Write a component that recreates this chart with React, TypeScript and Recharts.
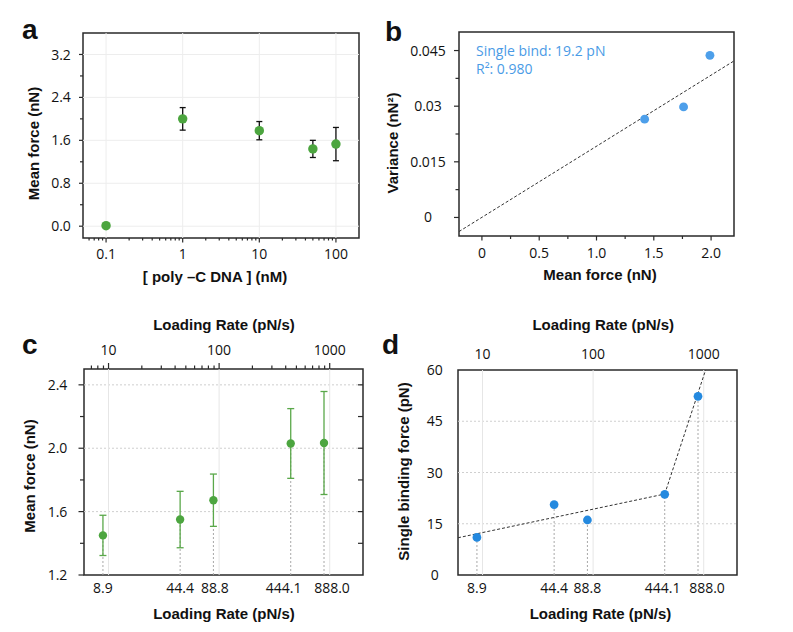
import React from "react";
import {
  ScatterChart,
  Scatter,
  XAxis,
  YAxis,
  ZAxis,
  ErrorBar,
  ReferenceLine,
  ReferenceArea,
  Label,
} from "recharts";

const W = 793;
const H = 632;

// ---- panel a: mean force vs poly-C DNA concentration
const concentration = [0.1, 1, 10, 50, 100];
const meanForceA = [0.01, 2.0, 1.78, 1.44, 1.53];
const errorA = [0.03, 0.21, 0.17, 0.16, 0.31];
const concTicks = [
  0.06, 0.07, 0.08, 0.09, 0.1, 0.2, 0.3, 0.4, 0.5, 0.6, 0.7, 0.8, 0.9, 1, 2, 3, 4, 5, 6, 7, 8, 9, 10,
  20, 30, 40, 50, 60, 70, 80, 90, 100,
];
const concMajors = [0.1, 1, 10, 100];
const forceTicksA = [0, 0.4, 0.8, 1.2, 1.6, 2.0, 2.4, 2.8, 3.2];
const forceMajorsA = [0, 0.8, 1.6, 2.4, 3.2];

// ---- panel b: variance vs mean force
const meanForceB = [1.42, 1.76, 1.99];
const varianceB = [0.0265, 0.0298, 0.0437];
const fitXB = [-0.2, 2.2];
const fitYB = [-0.0038, 0.0422];
const forceTicksB = [0, 0.25, 0.5, 0.75, 1.0, 1.25, 1.5, 1.75, 2.0];
const forceMajorsB = [0, 0.5, 1.0, 1.5, 2.0];
const varTicks = [0, 0.0075, 0.015, 0.0225, 0.03, 0.0375, 0.045];
const varMajors = [0, 0.015, 0.03, 0.045];

// ---- panels c, d: loading rate
const loadingRate = [8.9, 44.4, 88.8, 444.1, 888.0];
const meanForceC = [1.45, 1.55, 1.672, 2.03, 2.033];
const errorC = [0.127, 0.178, 0.165, 0.22, 0.325];
const singleForceD = [11.0, 20.6, 16.1, 23.6, 52.3];
const fitRateD = [6, 444.1, 1040];
const fitForceD = [10.9, 23.7, 60];
const rateTicks = [
  7, 8, 9, 10, 20, 30, 40, 50, 60, 70, 80, 90, 100, 200, 300, 400, 500, 600, 700, 800, 900, 1000,
];
const rateMajors = [10, 100, 1000];
const forceTicksC = [1.2, 1.4, 1.6, 1.8, 2.0, 2.2, 2.4];
const forceMajorsC = [1.2, 1.6, 2.0, 2.4];
const forceTicksCRight = [1.4, 1.6, 1.8, 2.0, 2.2, 2.4];
const forceTicksD = [0, 15, 30, 45, 60];
const gridForceC = [1.6, 2.0, 2.4];
const gridForceD = [15, 30, 45];

const concDomain = [0.05, 200];
const forceDomainA = [-0.22, 3.6];
const forceDomainB = [-0.2, 2.2];
const varDomain = [-0.005, 0.05];
const rateDomain = [6, 2000];
const forceDomainC = [1.2, 2.5];
const forceDomainD = [0, 60];

const rowsA = concentration.map((x, i) => ({ x, y: meanForceA[i], err: errorA[i] }));
const rowsB = meanForceB.map((x, i) => ({ x, y: varianceB[i] }));
const rowsC = loadingRate.map((x, i) => ({ x, y: meanForceC[i], err: errorC[i] }));
const rowsD = loadingRate.map((x, i) => ({ x, y: singleForceD[i] }));

// the crowded rate labels are pushed apart a little, as in the figure
const rateLabelShiftC = [0, 0, 1.5, -7, 8];
const rateLabelShiftD = [0, 0, 0, -2, 9];

const AXIS = "#2a2a2a";
const TICK_FONT = "'Open Sans', 'Noto Sans', sans-serif";
const TITLE_FONT = "'Liberation Sans', Arial, sans-serif";
const GREEN = "#4ca53f";
const GREEN_BAR = "#5aa84a";
const BLUE_B = "#4d9fea";
const BLUE_D = "#2489df";

const title = { fontFamily: TITLE_FONT, fontWeight: 700, fontSize: 15, fill: "#111" };

type Side = "left" | "right" | "top" | "bottom";
type TickOpts = {
  len: number;
  minor: number;
  gap: number;
  inward?: boolean;
  labels?: boolean;
  shift?: number[];
};

// draws tick marks (major/minor) and labels centred on the tick
function axisTick(side: Side, majors: number[], fmt: (v: number) => string, o: TickOpts) {
  return (props: any) => {
    const { x, y, payload } = props;
    const v = payload.value;
    const mi = majors.indexOf(v);
    const major = mi >= 0;
    const l = major ? o.len : o.minor;
    const s = o.inward ? -1 : 1;
    const nudge = o.shift && mi >= 0 ? o.shift[mi] : 0;
    let x2 = x, y2 = y, tx = x, ty = y;
    if (side === "left") { x2 = x - s * l; tx = x - o.gap; }
    if (side === "right") { x2 = x + s * l; tx = x + o.gap; }
    if (side === "top") { y2 = y - s * l; ty = y - o.gap; tx = x + nudge; }
    if (side === "bottom") { y2 = y + s * l; ty = y + o.gap; tx = x + nudge; }
    return (
      <g>
        {l > 0 && <line x1={x} y1={y} x2={x2} y2={y2} stroke={AXIS} strokeWidth={1.2} />}
        {major && o.labels !== false && (
          <text x={tx} y={ty} dy="0.36em" textAnchor="middle" fontFamily={TICK_FONT} fontSize={14} fill="#111">
            {fmt(v)}
          </text>
        )}
      </g>
    );
  };
}

const plain = (v: number) => String(v);
const fixed1 = (v: number) => v.toFixed(1);
const zeroOr1 = (v: number) => (v === 0 ? "0" : v.toFixed(1));

const axisCommon = {
  type: "number" as const,
  allowDataOverflow: true,
  interval: 0 as const,
  tickSize: 0,
  tickMargin: 0,
  tickLine: false,
  axisLine: false,
};

function Frame({ xd, yd }: { xd: number[]; yd: number[] }) {
  return (
    <ReferenceArea
      x1={xd[0]}
      x2={xd[1]}
      y1={yd[0]}
      y2={yd[1]}
      fill="none"
      stroke={AXIS}
      strokeWidth={1.5}
      ifOverflow="visible"
    />
  );
}

function PanelA() {
  return (
    <ScatterChart width={W} height={H} margin={{ top: 33, right: 434, bottom: 344, left: 23 }}>
      <XAxis {...axisCommon} dataKey="x" scale="log" domain={concDomain} ticks={concTicks} height={50}
        tick={axisTick("bottom", concMajors, plain, { len: 4.5, minor: 2.5, gap: 15.5 })}>
        <Label value="[ poly –C DNA ] (nM)" position="center" dx={-6} dy={13.7} {...title} />
      </XAxis>
      <YAxis {...axisCommon} dataKey="y" domain={forceDomainA} ticks={forceTicksA} width={60}
        tick={axisTick("left", forceMajorsA, fixed1, { len: 4, minor: 3, gap: 22 })}>
        <Label value="Mean force (nN)" angle={-90} position="center" dx={-19.7} dy={8} {...title} />
      </YAxis>
      <ZAxis range={[70, 70]} />
      {concMajors.map((v) => (
        <ReferenceLine key={"gx" + v} x={v} stroke="#ededed" />
      ))}
      {forceMajorsA.map((v) => (
        <ReferenceLine key={"gy" + v} y={v} stroke="#ededed" />
      ))}
      <Frame xd={concDomain} yd={forceDomainA} />
      <Scatter data={rowsA} dataKey="y" fill={GREEN} isAnimationActive={false}>
        <ErrorBar dataKey="err" direction="y" width={3} stroke="#111" strokeWidth={1.3} />
      </Scatter>
    </ScatterChart>
  );
}

function PanelB() {
  return (
    <ScatterChart width={W} height={H} margin={{ top: 32, right: 59, bottom: 346, left: 399 }}>
      <XAxis {...axisCommon} dataKey="x" domain={forceDomainB} ticks={forceTicksB} height={50}
        tick={axisTick("bottom", forceMajorsB, zeroOr1, { len: 4.5, minor: 3, gap: 16.7 })}>
        <Label value="Mean force (nN)" position="center" dx={3.5} dy={14} {...title} />
      </XAxis>
      <YAxis {...axisCommon} dataKey="y" domain={varDomain} ticks={varTicks} width={60}
        tick={axisTick("left", varMajors, plain, { len: 5, minor: 3.5, gap: 31 })}>
        <Label value="Variance (nN²)" angle={-90} position="center" dx={-36} dy={9} {...title} />
      </YAxis>
      <ZAxis range={[62, 62]} />
      <Frame xd={forceDomainB} yd={varDomain} />
      <ReferenceLine
        segment={[
          { x: fitXB[0], y: fitYB[0] },
          { x: fitXB[1], y: fitYB[1] },
        ]}
        stroke="#333"
        strokeDasharray="3 2"
        ifOverflow="visible"
      />
      <Scatter data={rowsB} dataKey="y" fill={BLUE_B} isAnimationActive={false} />
    </ScatterChart>
  );
}

function PanelC() {
  return (
    <ScatterChart width={W} height={H} margin={{ top: 319, right: 410, bottom: 7, left: 24 }}>
      <XAxis {...axisCommon} dataKey="x" scale="log" domain={rateDomain} ticks={loadingRate} height={50}
        tick={axisTick("bottom", loadingRate, fixed1, { len: 0, minor: 0, gap: 13.3, shift: rateLabelShiftC })}>
        <Label value="Loading Rate (pN/s)" position="center" dx={0.5} dy={13.3} {...title} />
      </XAxis>
      <XAxis {...axisCommon} xAxisId="top" orientation="top" dataKey="x" scale="log" domain={rateDomain}
        ticks={rateTicks} height={50}
        tick={axisTick("top", rateMajors, plain, { len: 6, minor: 3.5, gap: 19 })}>
        <Label value="Loading Rate (pN/s)" position="center" dx={0.5} dy={-19} {...title} />
      </XAxis>
      <YAxis {...axisCommon} dataKey="y" domain={forceDomainC} ticks={forceTicksC} width={60}
        tick={axisTick("left", forceMajorsC, fixed1, { len: 5.5, minor: 4, gap: 26.5 })}>
        <Label value="Mean force (nN)" angle={-90} position="center" dx={-24} dy={4} {...title} />
      </YAxis>
      <YAxis {...axisCommon} yAxisId="r" orientation="right" dataKey="y" domain={forceDomainC}
        ticks={forceTicksCRight} width={20}
        tick={axisTick("right", forceTicksCRight, fixed1, { len: 5, minor: 5, gap: 0, inward: true, labels: false })} />
      <ZAxis range={[55, 55]} />
      {gridForceC.map((v) => (
        <ReferenceLine key={"gy" + v} y={v} stroke="#cfcfcf" strokeDasharray="2 2" />
      ))}
      {rateMajors.map((v) => (
        <ReferenceLine key={"gx" + v} x={v} stroke="#e6e6e6" />
      ))}
      {loadingRate.map((r, i) => (
        <ReferenceLine
          key={"drop" + r}
          segment={[
            { x: r, y: forceDomainC[0] },
            { x: r, y: meanForceC[i] },
          ]}
          stroke="#a8a8a8"
          strokeDasharray="2 2"
        />
      ))}
      <Frame xd={rateDomain} yd={forceDomainC} />
      <Scatter data={rowsC} dataKey="y" fill={GREEN} isAnimationActive={false}>
        <ErrorBar dataKey="err" direction="y" width={3.5} stroke={GREEN_BAR} strokeWidth={1.3} />
      </Scatter>
    </ScatterChart>
  );
}

function PanelD() {
  return (
    <ScatterChart width={W} height={H} margin={{ top: 320, right: 56, bottom: 7, left: 398 }}>
      <XAxis {...axisCommon} dataKey="x" scale="log" domain={rateDomain} ticks={loadingRate} height={50}
        tick={axisTick("bottom", loadingRate, fixed1, { len: 0, minor: 0, gap: 13.3, shift: rateLabelShiftD })}>
        <Label value="Loading Rate (pN/s)" position="center" dx={3} dy={13.3} {...title} />
      </XAxis>
      <XAxis {...axisCommon} xAxisId="top" orientation="top" dataKey="x" scale="log" domain={rateDomain}
        ticks={rateMajors} height={50}
        tick={axisTick("top", rateMajors, plain, { len: 0, minor: 0, gap: 15.7 })}>
        <Label value="Loading Rate (pN/s)" position="center" dx={5.8} dy={-20} {...title} />
      </XAxis>
      <YAxis {...axisCommon} dataKey="y" domain={forceDomainD} ticks={forceTicksD} width={60}
        tick={axisTick("left", forceTicksD, plain, { len: 0, minor: 0, gap: 23.3 })}>
        <Label value="Single binding force (pN)" angle={-90} position="center" dx={-24.7} dy={-1} {...title} />
      </YAxis>
      <ZAxis range={[60, 60]} />
      {gridForceD.map((v) => (
        <ReferenceLine key={"gy" + v} y={v} stroke="#cfcfcf" strokeDasharray="2 2" />
      ))}
      {rateMajors.map((v) => (
        <ReferenceLine key={"gx" + v} x={v} stroke="#e6e6e6" />
      ))}
      {loadingRate.map((r, i) => (
        <ReferenceLine
          key={"drop" + r}
          segment={[
            { x: r, y: forceDomainD[0] },
            { x: r, y: singleForceD[i] },
          ]}
          stroke="#a8a8a8"
          strokeDasharray="2 2"
        />
      ))}
      {fitRateD.slice(1).map((r, i) => (
        <ReferenceLine
          key={"fit" + r}
          segment={[
            { x: fitRateD[i], y: fitForceD[i] },
            { x: r, y: fitForceD[i + 1] },
          ]}
          stroke="#333"
          strokeDasharray="3 2"
          ifOverflow="visible"
        />
      ))}
      <Frame xd={rateDomain} yd={forceDomainD} />
      <Scatter data={rowsD} dataKey="y" fill={BLUE_D} isAnimationActive={false} />
    </ScatterChart>
  );
}

const layer: React.CSSProperties = { position: "absolute", left: 0, top: 0 };
const letter: React.CSSProperties = {
  position: "absolute",
  fontFamily: TITLE_FONT,
  fontWeight: 700,
  fontSize: 28,
  lineHeight: "28px",
  color: "#111",
};

export default function App() {
  return (
    <div style={{ position: "absolute", left: 0, top: 0, width: W, height: H, background: "#fff", overflow: "hidden" }}>
      <div style={layer}><PanelA /></div>
      <div style={layer}><PanelB /></div>
      <div style={layer}><PanelC /></div>
      <div style={layer}><PanelD /></div>
      <div style={{ ...letter, left: 22, top: 16 }}>a</div>
      <div style={{ ...letter, left: 385, top: 18 }}>b</div>
      <div style={{ ...letter, left: 22, top: 331 }}>c</div>
      <div style={{ ...letter, left: 382, top: 331 }}>d</div>
      <div
        style={{
          position: "absolute",
          left: 476,
          top: 42,
          fontFamily: TICK_FONT,
          fontSize: 14,
          lineHeight: "18.3px",
          color: "#4a9be6",
        }}
      >
        <div>Single bind: 19.2 pN</div>
        <div>R²: 0.980</div>
      </div>
    </div>
  );
}
